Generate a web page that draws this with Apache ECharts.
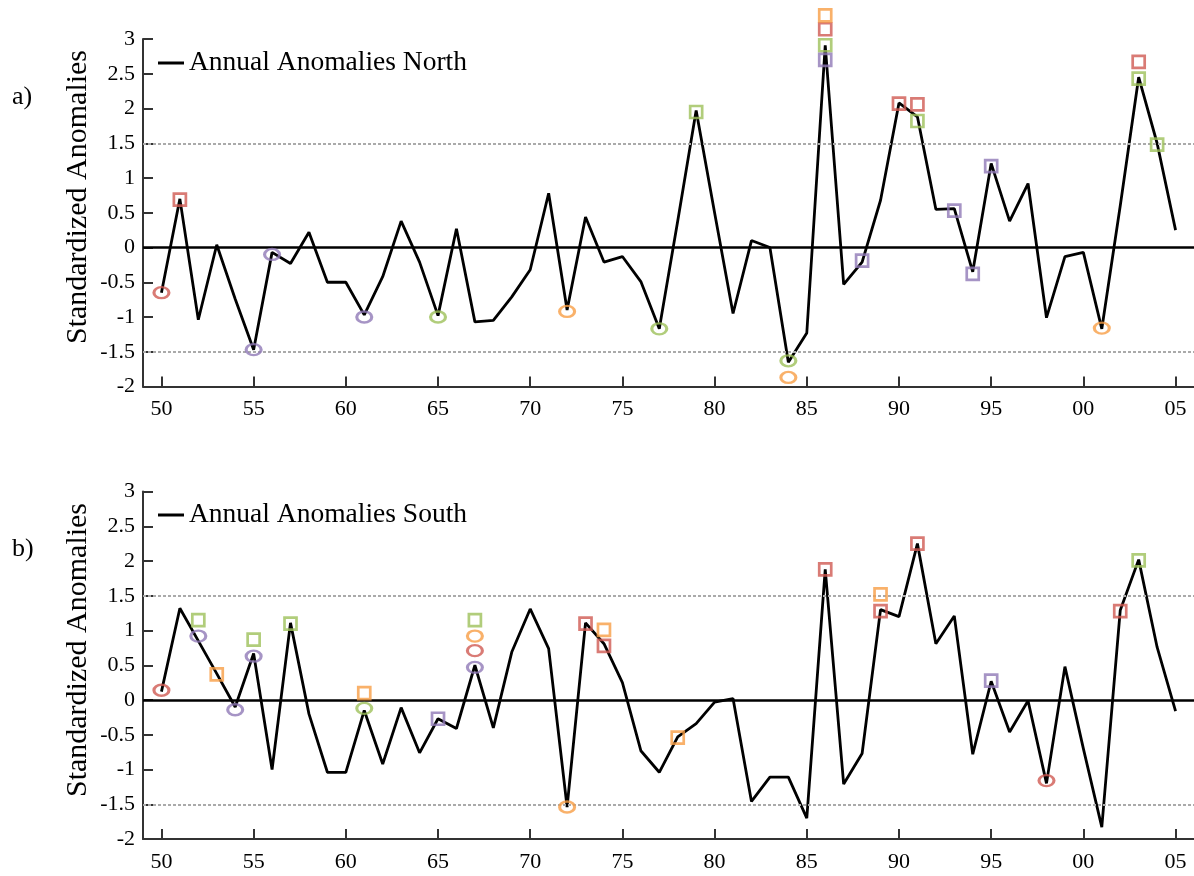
<!DOCTYPE html>
<html><head><meta charset="utf-8">
<script src="https://cdn.jsdelivr.net/npm/echarts@6/dist/echarts.min.js"></script>
<style>html,body{margin:0;padding:0;background:#fff}#c{width:1194px;height:876px}</style>
</head><body><div id="c"></div>
<script>
const years = [1950,1951,1952,1953,1954,1955,1956,1957,1958,1959,1960,1961,1962,1963,1964,1965,1966,1967,1968,1969,1970,1971,1972,1973,1974,1975,1976,1977,1978,1979,1980,1981,1982,1983,1984,1985,1986,1987,1988,1989,1990,1991,1992,1993,1994,1995,1996,1997,1998,1999,2000,2001,2002,2003,2004,2005];
const xTickValues = [1950,1955,1960,1965,1970,1975,1980,1985,1990,1995,2000,2005];

const northValues = [-0.65,0.70,-1.04,0.04,-0.74,-1.47,-0.07,-0.23,0.22,-0.50,-0.50,-0.97,-0.42,0.38,-0.21,-0.98,0.27,-1.07,-1.05,-0.71,-0.32,0.78,-0.90,0.44,-0.21,-0.13,-0.49,-1.17,0.38,1.97,0.50,-0.95,0.10,0.00,-1.65,-1.23,2.91,-0.53,-0.21,0.68,2.08,1.88,0.55,0.56,-0.35,1.21,0.38,0.92,-1.01,-0.13,-0.07,-1.17,0.60,2.45,1.50,0.25];
const southValues = [0.12,1.32,0.85,0.38,-0.10,0.67,-1.00,1.11,-0.20,-1.04,-1.04,-0.15,-0.92,-0.11,-0.76,-0.27,-0.41,0.50,-0.40,0.69,1.31,0.74,-1.54,1.11,0.81,0.25,-0.73,-1.04,-0.53,-0.34,-0.03,0.02,-1.46,-1.11,-1.11,-1.70,1.88,-1.21,-0.77,1.30,1.20,2.25,0.81,1.21,-0.78,0.27,-0.46,-0.01,-1.20,0.48,-0.70,-1.83,1.29,2.02,0.76,-0.16];

// marker positions [year, value]
const northRedSquares    = [[1951,0.69],[1986,3.14],[1990,2.07],[1991,2.06],[2003,2.67]];
const northOrangeSquares = [[1986,3.34]];
const northGreenSquares  = [[1979,1.95],[1986,2.91],[1991,1.82],[2003,2.43],[2004,1.48]];
const northPurpleSquares = [[1986,2.70],[1988,-0.19],[1993,0.53],[1994,-0.38],[1995,1.17]];
const northRedCircles    = [[1950,-0.65]];
const northOrangeCircles = [[1972,-0.92],[1984,-1.87],[2001,-1.16]];
const northGreenCircles  = [[1965,-1.00],[1977,-1.17],[1984,-1.63]];
const northPurpleCircles = [[1955,-1.47],[1956,-0.10],[1961,-1.00]];

const southRedSquares    = [[1973,1.10],[1974,0.78],[1986,1.88],[1989,1.28],[1991,2.25],[2002,1.28]];
const southOrangeSquares = [[1953,0.37],[1961,0.10],[1974,1.01],[1978,-0.54],[1989,1.52]];
const southGreenSquares  = [[1952,1.15],[1955,0.87],[1957,1.10],[1967,1.15],[2003,2.01]];
const southPurpleSquares = [[1965,-0.27],[1995,0.28]];
const southRedCircles    = [[1950,0.14],[1967,0.71],[1998,-1.16]];
const southOrangeCircles = [[1967,0.92],[1972,-1.54]];
const southGreenCircles  = [[1961,-0.12]];
const southPurpleCircles = [[1952,0.92],[1954,-0.14],[1955,0.63],[1967,0.47]];

const RED='#cf5a52', ORANGE='#f89d45', GREEN='#9dc05a', PURPLE='#9079b6';
const FONT = '"Liberation Serif","DejaVu Serif",serif';

function pairs(vals){ return years.map((y,i)=>[y, vals[i]]); }
function markerSeries(gi, data, color, shape){
  return {type:'scatter', xAxisIndex:gi, yAxisIndex:gi, data:data, clip:false,
    symbol: shape==='sq' ? 'rect' : 'circle',
    symbolSize: shape==='sq' ? 12 : [15,11],
    itemStyle:{color:'rgba(0,0,0,0)', borderColor:color, borderWidth:2.7},
    z:5, silent:true};
}
function lineSeries(gi, name, vals){
  return {type:'line', name:name, xAxisIndex:gi, yAxisIndex:gi, data:pairs(vals),
    symbol:'none', lineStyle:{color:'#000', width:2.8}, itemStyle:{color:'#000'}, z:3,
    markLine:{silent:true, symbol:'none', label:{show:false}, animation:false,
      data:[
        {yAxis:1.5, lineStyle:{color:'#aaa', width:2, type:[3,2]}},
        {yAxis:-1.5, lineStyle:{color:'#aaa', width:2, type:[3,2]}},
        {yAxis:0, lineStyle:{color:'#000', width:2.6, type:'solid'}}
      ]}};
}
function xAxis(gi){
  return {type:'value', gridIndex:gi, min:1949, max:2006,
    axisLine:{show:true, onZero:false, lineStyle:{color:'#333', width:2}},
    axisTick:{show:true, inside:true, length:10, customValues:xTickValues, lineStyle:{color:'#333', width:2}},
    axisLabel:{show:true, customValues:xTickValues, margin:12, color:'#000', fontSize:22, fontFamily:FONT,
      formatter:v=>String(v%100).padStart(2,'0')},
    splitLine:{show:false}};
}
function yAxis(gi){
  return {type:'value', gridIndex:gi, min:-2, max:3, interval:0.5,
    axisLine:{show:true, lineStyle:{color:'#333', width:2}},
    axisTick:{show:true, inside:true, length:10, lineStyle:{color:'#333', width:2}},
    axisLabel:{margin:8, color:'#000', fontSize:22, fontFamily:FONT},
    splitLine:{show:false}};
}

const chart = echarts.init(document.getElementById('c'), null, {renderer:'canvas'});
chart.setOption({
  animation:false,
  backgroundColor:'#fff',
  grid:[
    {left:143, right:-2, top:39, height:347.5},
    {left:143, right:-2, top:491.5, height:347.5}
  ],
  xAxis:[xAxis(0), xAxis(1)],
  yAxis:[yAxis(0), yAxis(1)],
  legend:[
    {data:['Annual Anomalies North'], left:153, top:44, icon:'rect', itemWidth:26, itemHeight:3,
      textStyle:{fontSize:27.5, fontFamily:FONT, color:'#000'}},
    {data:['Annual Anomalies South'], left:153, top:496, icon:'rect', itemWidth:26, itemHeight:3,
      textStyle:{fontSize:27.5, fontFamily:FONT, color:'#000'}}
  ],
  graphic:[
    {type:'text', x:12, y:97, style:{text:'a)', fontSize:26, fontFamily:FONT, fill:'#000', verticalAlign:'middle'}},
    {type:'text', x:12, y:549, style:{text:'b)', fontSize:26, fontFamily:FONT, fill:'#000', verticalAlign:'middle'}},
    {type:'text', x:78, y:197, rotation:Math.PI/2, style:{text:'Standardized Anomalies', fontSize:30, fontFamily:FONT, fill:'#000', align:'center', verticalAlign:'middle'}},
    {type:'text', x:78, y:650, rotation:Math.PI/2, style:{text:'Standardized Anomalies', fontSize:30, fontFamily:FONT, fill:'#000', align:'center', verticalAlign:'middle'}}
  ],
  series:[
    lineSeries(0,'Annual Anomalies North', northValues),
    markerSeries(0, northRedSquares, RED, 'sq'),
    markerSeries(0, northOrangeSquares, ORANGE, 'sq'),
    markerSeries(0, northGreenSquares, GREEN, 'sq'),
    markerSeries(0, northPurpleSquares, PURPLE, 'sq'),
    markerSeries(0, northRedCircles, RED, 'ci'),
    markerSeries(0, northOrangeCircles, ORANGE, 'ci'),
    markerSeries(0, northGreenCircles, GREEN, 'ci'),
    markerSeries(0, northPurpleCircles, PURPLE, 'ci'),
    lineSeries(1,'Annual Anomalies South', southValues),
    markerSeries(1, southRedSquares, RED, 'sq'),
    markerSeries(1, southOrangeSquares, ORANGE, 'sq'),
    markerSeries(1, southGreenSquares, GREEN, 'sq'),
    markerSeries(1, southPurpleSquares, PURPLE, 'sq'),
    markerSeries(1, southRedCircles, RED, 'ci'),
    markerSeries(1, southOrangeCircles, ORANGE, 'ci'),
    markerSeries(1, southGreenCircles, GREEN, 'ci'),
    markerSeries(1, southPurpleCircles, PURPLE, 'ci')
  ]
});
</script></body></html>
